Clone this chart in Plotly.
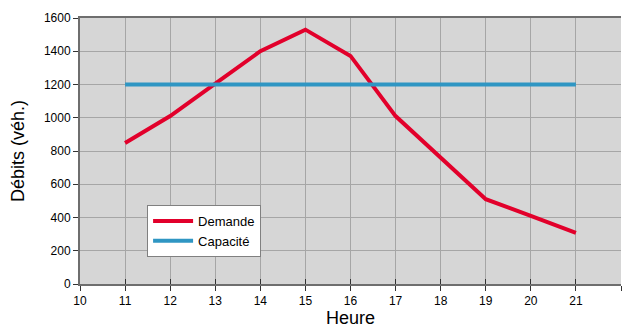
import plotly.graph_objects as go

heures = [11, 12, 13, 14, 15, 16, 17, 18, 19, 20, 21]
demande = [848, 1010, 1205, 1400, 1530, 1372, 1010, 762, 510, 410, 308]
capacite = [1200] * len(heures)

FONT = "Liberation Sans, Arial, sans-serif"

fig = go.Figure()
fig.add_trace(go.Scatter(x=heures, y=demande, mode="lines", name="Demande",
                         line=dict(color="#e2002b", width=4)))
fig.add_trace(go.Scatter(x=heures, y=capacite, mode="lines", name="Capacité",
                         line=dict(color="#2f96c3", width=4)))
# invisible helper trace so the inner-tick axis is drawn
fig.add_trace(go.Scatter(x=heures, y=capacite, mode="lines", xaxis="x2",
                         line=dict(color="rgba(0,0,0,0)", width=0),
                         showlegend=False, hoverinfo="skip"))

W, H = 626, 329
L, R, T, B = 80, 5, 18, 45

fig.update_layout(
    width=W, height=H,
    margin=dict(l=L, r=R, t=T, b=B, autoexpand=False),
    paper_bgcolor="white", plot_bgcolor="#d6d6d6",
    font=dict(family=FONT, size=12, color="#000"),
    showlegend=True,
    legend=dict(x=0.124, y=0.297, xanchor="left", yanchor="top",
                bgcolor="white", bordercolor="#808080", borderwidth=1,
                font=dict(size=13), tracegroupgap=0, itemwidth=40),
    xaxis=dict(range=[10, 22], tickmode="linear", tick0=10, dtick=1,
               showgrid=True, gridcolor="#a6a6a6", gridwidth=1,
               showline=True, linecolor="#6e6e6e", linewidth=2, mirror=True,
               ticks="outside", ticklen=5, tickcolor="#333", tickwidth=1,
               zeroline=False, automargin=False, tickfont=dict(size=12)),
    xaxis2=dict(range=[10, 22], tickmode="linear", tick0=10, dtick=1,
                overlaying="x", anchor="y", side="bottom",
                showgrid=False, showline=False, showticklabels=False,
                ticks="inside", ticklen=5, tickcolor="#333", tickwidth=1,
                zeroline=False, automargin=False),
    yaxis=dict(range=[0, 1600], tickmode="linear", tick0=0, dtick=200,
               showgrid=True, gridcolor="#a6a6a6", gridwidth=1,
               showline=True, linecolor="#6e6e6e", linewidth=2,
               ticks="outside", ticklen=5, tickcolor="#333", tickwidth=1,
               zeroline=False, automargin=False, tickfont=dict(size=12)),
    annotations=[
        dict(text="Heure", xref="paper", yref="paper", x=0.5, y=0,
             yshift=-34, xanchor="center", yanchor="middle",
             showarrow=False, font=dict(size=18)),
        dict(text="Débits (véh.)", xref="paper", yref="paper", x=0, y=0.5,
             xshift=-62, xanchor="center", yanchor="middle", textangle=-90,
             showarrow=False, font=dict(size=18)),
    ],
)

fig.write_html("out.html", config={"displayModeBar": False},
               post_script="document.body.style.margin='0';document.body.style.overflow='hidden';")
